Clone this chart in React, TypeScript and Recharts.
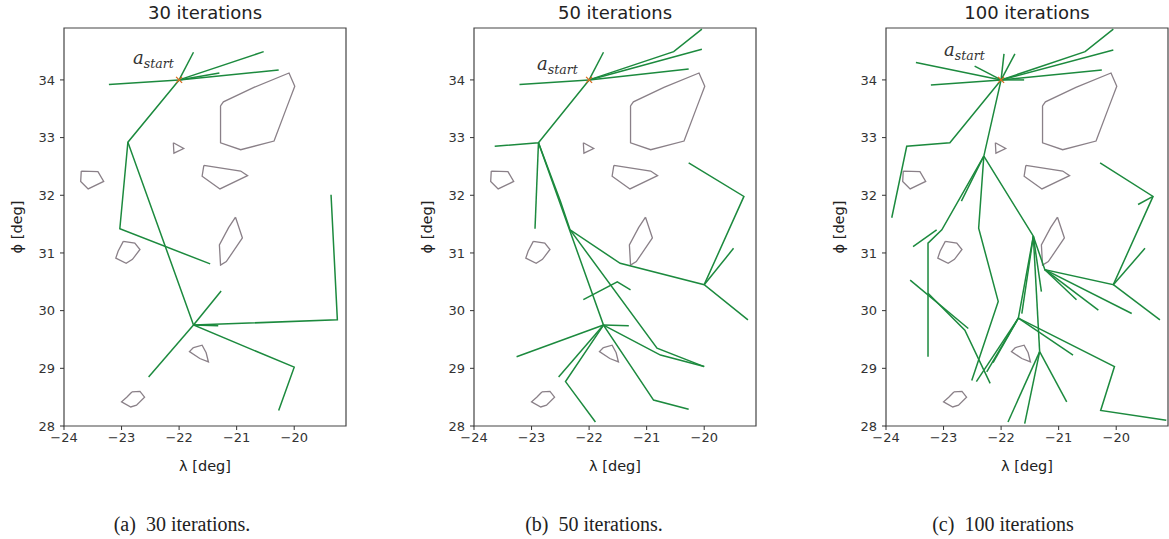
import React from 'react'
import { ScatterChart, Scatter, XAxis, YAxis, ReferenceArea, ReferenceDot } from 'recharts'

type Pt = [number, number]

const xTicks = [-24, -23, -22, -21, -20]
const yTicks = [28, 29, 30, 31, 32, 33, 34]
const xDomain: Pt = [-24, -19.1]
const yDomain: Pt = [28, 34.9]

const titles = ['30 iterations', '50 iterations', '100 iterations']
const captions = ['(a)\u00a0 30 iterations.', '(b)\u00a0 50 iterations.', '(c)\u00a0 100 iterations']

const start: Pt = [-22, 34]

// no-fly zones, same in every panel
const obstacles: Pt[][] = [
  [[-21.28, 33.55], [-21.23, 33.62], [-20.7, 33.87], [-20.09, 34.12], [-19.99, 33.89], [-20.12, 33.55], [-20.35, 32.94], [-20.93, 32.79], [-21.28, 32.91]],
  [[-22.1, 32.91], [-21.92, 32.81], [-22.09, 32.73]],
  [[-23.7, 32.42], [-23.41, 32.41], [-23.31, 32.24], [-23.58, 32.11], [-23.71, 32.24]],
  [[-21.57, 32.52], [-20.93, 32.42], [-20.81, 32.34], [-21.29, 32.11], [-21.6, 32.33]],
  [[-21.02, 31.62], [-20.9, 31.26], [-21.18, 30.85], [-21.28, 30.79], [-21.3, 31.14], [-21.14, 31.44]],
  [[-22.97, 31.2], [-22.77, 31.17], [-22.68, 31.06], [-22.81, 30.89], [-22.92, 30.82], [-23.1, 30.91], [-23.06, 31.03]],
  [[-21.75, 29.36], [-21.6, 29.4], [-21.53, 29.27], [-21.49, 29.11], [-21.64, 29.17], [-21.82, 29.29]],
  [[-22.82, 28.59], [-22.68, 28.6], [-22.6, 28.5], [-22.74, 28.36], [-22.84, 28.33], [-23.0, 28.42], [-22.91, 28.5]],
]

// RRT branches after 30 iterations
const tree30: Pt[][] = [
  [start, [-23.22, 33.92]],
  [start, [-21.75, 34.48]],
  [start, [-20.53, 34.49]],
  [start, [-20.27, 34.17]],
  [start, [-21.3, 34.12]],
  [start, [-22.89, 32.92], [-21.75, 29.75], [-20.0, 29.02], [-20.27, 28.27]],
  [[-22.89, 32.92], [-23.03, 31.42], [-21.46, 30.81]],
  [[-21.75, 29.75], [-22.53, 28.85]],
  [[-21.75, 29.75], [-21.27, 30.34]],
  [[-21.75, 29.75], [-21.32, 29.74]],
  [[-21.75, 29.75], [-19.25, 29.84], [-19.36, 32.01]],
]

// RRT branches after 50 iterations
const tree50: Pt[][] = [
  [start, [-23.21, 33.92]],
  [start, [-21.75, 34.48]],
  [start, [-20.53, 34.49], [-20.04, 34.88]],
  [start, [-20.04, 34.53]],
  [start, [-20.27, 34.19]],
  [start, [-22.88, 32.91], [-23.64, 32.85]],
  [[-22.88, 32.91], [-22.94, 31.42]],
  [[-22.88, 32.91], [-22.5, 31.9], [-22.33, 31.4], [-21.46, 30.82], [-20.0, 30.45], [-19.24, 29.84]],
  [[-20.0, 30.45], [-19.31, 31.98], [-20.27, 32.56]],
  [[-20.0, 30.45], [-19.49, 31.08]],
  [[-22.33, 31.4], [-20.82, 29.35], [-20.0, 29.03]],
  [[-22.88, 32.91], [-21.75, 29.75], [-20.88, 28.45], [-20.27, 28.29]],
  [[-21.75, 29.75], [-23.26, 29.2]],
  [[-21.75, 29.75], [-21.31, 29.74]],
  [[-21.75, 29.75], [-22.53, 28.85]],
  [[-21.75, 29.75], [-22.41, 28.77], [-21.89, 28.07]],
  [[-21.75, 29.75], [-20.76, 29.23], [-20.0, 29.03]],
  [[-22.1, 30.19], [-21.51, 30.5], [-21.28, 30.36]],
]

// RRT branches after 100 iterations
const tree100: Pt[][] = [
  [start, [-23.48, 34.3]],
  [start, [-23.22, 33.91]],
  [start, [-22.46, 34.24]],
  [start, [-21.95, 34.45]],
  [start, [-21.76, 34.45]],
  [start, [-20.54, 34.49], [-20.05, 34.88]],
  [start, [-20.05, 34.52]],
  [start, [-20.25, 34.17]],
  [start, [-21.6, 34.0]],
  [start, [-22.89, 32.91], [-23.64, 32.85], [-23.9, 31.61]],
  [start, [-22.3, 32.68], [-22.69, 31.9]],
  [[-22.3, 32.68], [-23.03, 31.4], [-23.27, 31.17], [-23.27, 29.2]],
  [[-23.12, 31.4], [-23.53, 31.11]],
  [[-22.3, 32.68], [-22.39, 31.43], [-22.05, 30.16], [-22.51, 28.79]],
  [[-22.3, 32.68], [-21.44, 31.29], [-21.7, 29.87]],
  [[-21.44, 31.29], [-21.64, 29.95]],
  [[-21.44, 31.29], [-21.3, 30.33]],
  [[-21.44, 31.29], [-21.33, 29.29]],
  [[-21.44, 31.29], [-21.24, 30.71], [-20.05, 30.45], [-19.36, 31.98], [-20.28, 32.56]],
  [[-19.36, 31.98], [-19.62, 31.84]],
  [[-20.05, 30.45], [-19.5, 31.08]],
  [[-20.05, 30.45], [-19.24, 29.84]],
  [[-21.24, 30.71], [-19.73, 29.95]],
  [[-21.24, 30.71], [-20.31, 30.01]],
  [[-21.24, 30.71], [-20.69, 30.19]],
  [[-21.7, 29.87], [-20.03, 29.03], [-20.27, 28.27], [-19.13, 28.1]],
  [[-21.7, 29.87], [-20.75, 29.23]],
  [[-21.7, 29.87], [-22.43, 28.77]],
  [[-21.7, 29.87], [-22.25, 28.94]],
  [[-21.7, 29.87], [-22.14, 29.1]],
  [[-21.33, 29.29], [-21.88, 28.07]],
  [[-21.33, 29.29], [-21.59, 28.04]],
  [[-21.33, 29.29], [-20.86, 28.42]],
  [[-23.58, 30.53], [-22.57, 29.69]],
  [[-23.27, 30.3], [-22.63, 29.66], [-22.19, 28.74]],
]

const trees = [tree30, tree50, tree100]

const GREEN = '#1c8a3e'
const GREY = '#8a8088'
const INK = '#333'
const CW = 354
const CH = 456
const YW = 64
const PLOT_W = CW - YW - 8
const panelLeft = [0, 410, 822]
const captionX = [182, 594, 1003]
const labelOffset: Pt[] = [[-46, -16], [-52, -10], [-57, -24]]

const toData = (pts: Pt[]) => pts.map(([x, y]) => ({ x, y }))
const closed = (pts: Pt[]) => [...pts, pts[0]]
const noDot = () => <g />
const fmt = (v: number) => String(v).replace('-', '\u2212')

function StartMark({ cx, cy, dx, dy }: any) {
  return (
    <g>
      <path d={`M${cx - 3},${cy - 3}L${cx + 3},${cy + 3}M${cx - 3},${cy + 3}L${cx + 3},${cy - 3}`} stroke="#d9691f" strokeWidth={1.3} />
      <text x={cx + dx} y={cy + dy} fill="#333" fontFamily="DejaVu Serif" fontStyle="italic">
        <tspan fontSize={18}>a</tspan>
        <tspan fontSize={12.5} dy={4}>start</tspan>
      </text>
    </g>
  )
}

function Panel({ idx }: { idx: number }) {
  const left = panelLeft[idx]
  const plotX = left + YW
  const [dx, dy] = labelOffset[idx]
  const text: React.CSSProperties = { position: 'absolute', fontFamily: 'DejaVu Sans', color: '#222', whiteSpace: 'nowrap', textAlign: 'center' }
  return (
    <>
      <div style={{ position: 'absolute', left, top: 0 }}>
        <ScatterChart width={CW} height={CH} margin={{ top: 28, right: 8, left: 0, bottom: 0 }}>
          <XAxis
            type="number"
            dataKey="x"
            domain={xDomain}
            ticks={xTicks}
            allowDataOverflow
            tickFormatter={fmt}
            tick={{ fill: INK, fontSize: 13, fontFamily: 'DejaVu Sans' }}
            tickSize={4}
            tickMargin={3}
            tickLine={{ stroke: INK }}
            axisLine={false}
            height={30}
          />
          <YAxis
            type="number"
            dataKey="y"
            domain={yDomain}
            ticks={yTicks}
            allowDataOverflow
            tick={{ fill: INK, fontSize: 13, fontFamily: 'DejaVu Sans' }}
            tickSize={4}
            tickMargin={5}
            tickLine={{ stroke: INK }}
            axisLine={false}
            width={YW}
          />
          {obstacles.map((p, i) => (
            <Scatter key={'o' + i} data={toData(closed(p))} line={{ stroke: GREY, strokeWidth: 1.3 }} shape={noDot} isAnimationActive={false} />
          ))}
          {trees[idx].map((p, i) => (
            <Scatter key={'t' + i} data={toData(p)} line={{ stroke: GREEN, strokeWidth: 1.5 }} shape={noDot} isAnimationActive={false} />
          ))}
          <ReferenceDot x={start[0]} y={start[1]} shape={(p: any) => <StartMark cx={p.cx} cy={p.cy} dx={dx} dy={dy} />} />
          <ReferenceArea x1={xDomain[0]} x2={xDomain[1]} y1={yDomain[0]} y2={yDomain[1]} fill="none" stroke="#444" strokeWidth={1.2} />
        </ScatterChart>
      </div>
      <div style={{ ...text, left: plotX, width: PLOT_W, top: 2, fontSize: 18, lineHeight: '22px' }}>{titles[idx]}</div>
      <div style={{ ...text, left: plotX, width: PLOT_W, top: 456, fontSize: 14.5, lineHeight: '20px' }}>λ [deg]</div>
      <div style={{ ...text, left: left + 17 - 50, width: 100, top: 217, fontSize: 14.5, lineHeight: '20px', transform: 'rotate(-90deg)' }}>ϕ [deg]</div>
      <div style={{ ...text, left: captionX[idx] - 110, width: 220, top: 513, fontSize: 20, lineHeight: '22px', fontFamily: 'Liberation Serif' }}>{captions[idx]}</div>
    </>
  )
}

export default function App() {
  return (
    <div style={{ position: 'absolute', left: 0, top: 0, width: 1169, height: 539, overflow: 'hidden', background: '#fff' }}>
      {[0, 1, 2].map((i) => (
        <Panel key={i} idx={i} />
      ))}
    </div>
  )
}
